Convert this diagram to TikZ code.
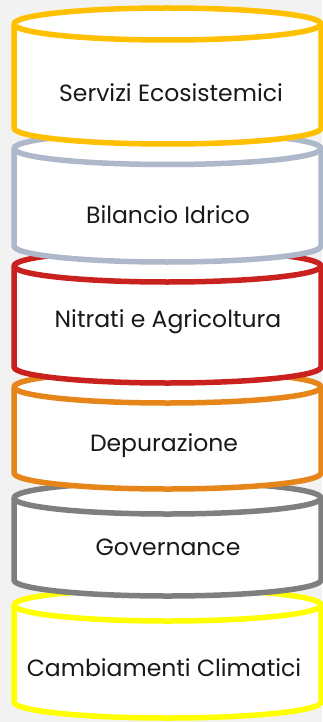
\documentclass[tikz,border=0pt]{standalone}
\usepackage{fontspec}
\setmainfont{Poppins}
\definecolor{bgc}{HTML}{F2F2F2}
\definecolor{cA}{HTML}{FFC000}
\definecolor{cB}{HTML}{ADB9CA}
\definecolor{cC}{HTML}{C9211E}
\definecolor{cD}{HTML}{E6861A}
\definecolor{cE}{HTML}{7F7F7F}
\definecolor{cF}{HTML}{FFFF00}
\newcommand{\mycyl}[3]{%
  \fill[white] (14,-#1) -- (14,-#2) arc[start angle=180,end angle=360,x radius=153.5,y radius=16] -- (321,-#1) -- cycle;
  \draw[cylline,#3] (14,-#1) -- (14,-#2) arc[start angle=180,end angle=360,x radius=153.5,y radius=16] -- (321,-#1);
  \draw[cylline,#3,fill=white] (167.5,-#1) ellipse[x radius=153.5,y radius=16];
}
\tikzset{
  cylline/.style={line width=5.5pt,line join=round},
  lbl/.style={anchor=base,font=\fontsize{23.5}{27}\selectfont,text=black!90,inner sep=0pt}
}
\begin{document}
\begin{tikzpicture}[x=1pt,y=1pt]
\fill[bgc] (0,0) rectangle (322,-722);
\useasboundingbox (0,0) rectangle (322,-722);
\mycyl{605}{702}{cF}
\mycyl{498}{580}{cE}
\mycyl{387}{473}{cD}
\mycyl{266}{367}{cC}
\mycyl{148.5}{246}{cB}
\mycyl{24}{128}{cA}
\node[lbl] (t1) at (171,-101.5) {Servizi Ecosistemici};
\node[lbl] (t2) at (168,-223) {Bilancio Idrico};
\node[lbl] (t3) at (168,-327) {Nitrati e Agricoltura};
\node[lbl] (t4) at (164,-451.5) {Depurazione};
\node[lbl] (t5) at (168,-555) {Governance};
\node[lbl] (t6) at (164,-676) {Cambiamenti Climatici};
\end{tikzpicture}
\end{document}
